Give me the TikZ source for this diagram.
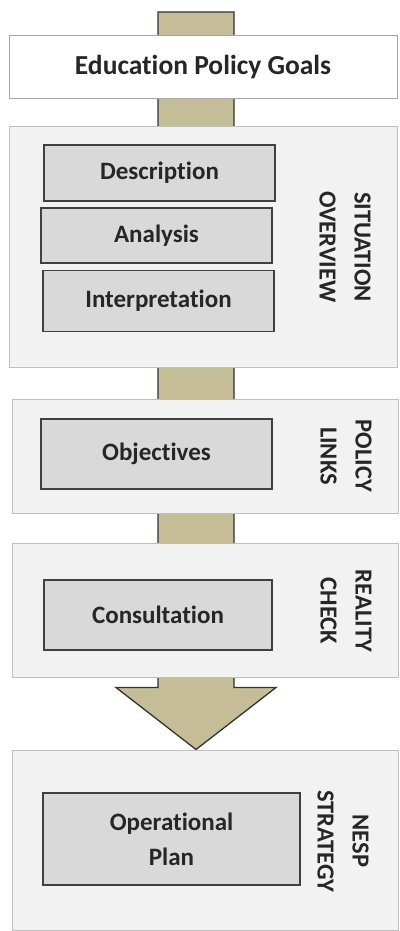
\documentclass[tikz,border=0pt]{standalone}
\usepackage{fontspec}
\setmainfont{Carlito}[Ligatures=NoCommon]
\usepackage{xcolor}
\usetikzlibrary{backgrounds}
\definecolor{shaftfill}{HTML}{C4BD97}
\definecolor{panelfill}{HTML}{F2F2F2}
\definecolor{stepfill}{HTML}{D9D9D9}
\definecolor{inkgray}{HTML}{262626}

\begin{document}
\begin{tikzpicture}[x=1pt,y=1pt,
  panel/.style={draw=black!25,fill=panelfill,line width=1pt,inner sep=0pt},
  stepbox/.style={draw=black!75,fill=stepfill,line width=1.6pt,inner sep=0pt,
    text=inkgray,font=\fontsize{25}{35}\selectfont\bfseries,align=center},
  sidelabel/.style={rotate=-90,text=inkgray,align=center,
    font=\fontsize{24.5}{35}\selectfont\bfseries}]
\useasboundingbox (0,0) rectangle (399,-931);
%Goals
\node[panel,fill=white,draw=black!35,minimum width=388,minimum height=63,
  text=inkgray,font=\fontsize{27.5}{30}\selectfont\bfseries] (goals) at (203,-67.5) {Education Policy Goals};
%Situation overview
\node[panel,minimum width=388,minimum height=240] (situation) at (203,-247) {};
\node[stepbox,minimum width=231,minimum height=56] (description) at (159.5,-173) {Description};
\node[stepbox,minimum width=231,minimum height=55] (analysis) at (156.5,-235.5) {Analysis};
\node[stepbox,minimum width=231,minimum height=61] (interpretation) at (158.5,-301) {Interpretation};
\node[sidelabel] (situationlabel) at (345,-247) {SITUATION\\OVERVIEW};
%Policy links
\node[panel,minimum width=386,minimum height=114] (policy) at (205,-456) {};
\node[stepbox,minimum width=231,minimum height=70] (objectives) at (156.5,-454) {Objectives};
\node[sidelabel] (policylabel) at (346,-456) {POLICY\\LINKS};
%Reality check
\node[panel,minimum width=386,minimum height=134] (reality) at (205,-610) {};
\node[stepbox,minimum width=228,minimum height=70] (consultation) at (158,-615) {Consultation};
\node[sidelabel] (realitylabel) at (346,-611) {REALITY\\CHECK};
%NESP strategy
\node[panel,minimum width=386,minimum height=180] (nesp) at (205,-840) {};
\node[stepbox,minimum width=257,minimum height=92] (operational) at (171.5,-839) {Operational\\Plan};
\node[sidelabel] (nesplabel) at (343,-841) {NESP\\STRATEGY};
%Arrow
\coordinate (top) at (196,-12);
\coordinate (tip) at (top |- nesp.north);
\begin{scope}[on background layer]
\draw[fill=shaftfill,draw=black!80,line width=1.3pt,line join=miter]
  ([shift={(-38,0)}]top) -- ([shift={(-38,62)}]tip) -- ([shift={(-80,62)}]tip)
  -- (tip) -- ([shift={(80,62)}]tip) -- ([shift={(38,62)}]tip)
  -- ([shift={(38,0)}]top) -- cycle;
\end{scope}
\end{tikzpicture}
\end{document}
